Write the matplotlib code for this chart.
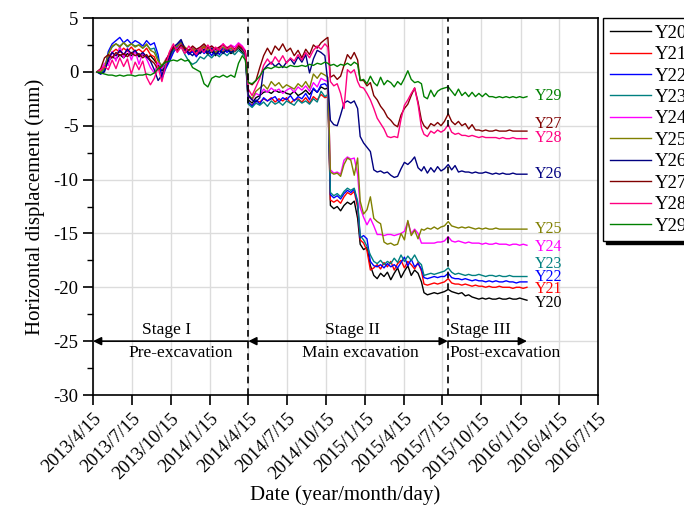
import numpy as np
import matplotlib
matplotlib.use("Agg")
import matplotlib.pyplot as plt
from matplotlib.ticker import MultipleLocator

plt.rcParams['font.family'] = ['Liberation Serif', 'DejaVu Serif']
plt.rcParams['axes.unicode_minus'] = False

# survey days counted from 2013/4/15
days = [9, 18, 27, 36, 45, 54, 63, 72, 81, 90, 99, 108, 117, 126, 135, 144, 153, 162, 171, 180,
        189, 198, 207, 216, 225, 234, 243, 252, 261, 270, 279, 288, 297, 306, 315, 324, 333, 342, 351, 358,
        365, 374, 383, 392, 401, 410, 419, 428, 437, 446, 455, 464, 473, 482, 491, 500, 509, 518, 527, 536, 545, 552,
        558, 566, 574, 582, 590, 598, 606, 614, 622, 628,
        636, 644, 652, 660, 668, 676, 684, 692, 700, 708, 716, 724, 732, 740, 748, 756, 764, 772, 778, 786, 794, 802, 810, 818, 826, 835,
        843, 851, 859, 867, 875, 883, 891, 899, 907, 915, 923, 931, 939, 947, 955, 963, 971, 979, 987, 995, 1003, 1011, 1020]

y20 = [0.0, 0.0, 0.2, 1.0, 1.4, 1.2, 1.6, 1.3, 1.7, 1.5, 1.9, 1.4, 1.6, 1.3, 1.5, 1.1, 0.6, 0.1, 0.5, 1.3,
       2.1, 2.4, 2.8, 2.0, 1.7, 1.9, 1.5, 1.8, 2.1, 1.6, 1.9, 1.5, 2.0, 1.8, 2.1, 1.7, 1.9, 2.2, 1.8, 1.5,
       -2.6, -2.9, -2.4, -2.2, -1.9, -1.8, -2.0, -1.7, -1.9, -1.8, -2.0, -2.1, -1.8, -2.2, -2.0, -1.7, -2.1, -1.6, -1.9, -1.4, -1.6, -1.5,
       -12.4, -12.7, -12.5, -12.9, -12.4, -12.1, -12.3, -12.0, -13.6, -16.0,
       -16.5, -16.3, -18.0, -18.9, -19.2, -18.7, -19.0, -18.6, -19.3, -18.7, -18.2, -19.1, -18.5, -18.0, -18.9, -18.4, -18.7, -19.5, -20.5, -20.7, -20.6, -20.5, -20.6, -20.5, -20.4, -20.2,
       -20.4, -20.5, -20.6, -20.5, -20.8, -20.7, -20.9, -21.0, -21.1, -21.0, -21.1, -21.0, -21.1, -21.1, -21.0, -21.1, -21.1, -21.0, -21.1, -21.1, -21.0, -21.1, -21.2]
y21 = [0.0, -0.1, 0.3, 1.4, 1.8, 2.1, 1.8, 2.2, 1.9, 2.3, 1.9, 2.1, 1.8, 2.2, 1.6, 1.4, 0.5, -0.2, 0.4, 1.1,
       1.9, 2.2, 2.5, 2.0, 1.7, 2.1, 1.7, 2.0, 2.3, 1.9, 2.1, 1.8, 2.2, 2.0, 2.3, 1.9, 2.1, 2.5, 2.2, 1.8,
       -2.9, -3.1, -2.7, -2.8, -2.5, -2.7, -2.4, -2.8, -2.5, -2.7, -2.4, -2.9, -2.6, -2.5, -2.8, -2.4, -2.9, -2.3, -2.6, -2.1, -2.4, -2.3,
       -11.9, -12.1, -11.9, -12.2, -11.6, -11.2, -11.4, -11.1, -12.6, -15.6,
       -15.9, -16.6, -18.4, -18.2, -17.9, -18.3, -17.7, -18.1, -17.6, -18.4, -17.8, -17.5, -18.2, -17.6, -17.9, -18.3, -17.7, -18.5, -19.7, -19.8, -19.7, -19.6, -19.7, -19.6, -19.5, -19.2,
       -19.6, -19.7, -19.7, -19.8, -19.7, -19.8, -19.9, -19.8, -19.9, -19.9, -20.0, -19.9, -20.0, -20.0, -19.9, -20.0, -20.0, -20.0, -20.1, -20.0, -20.0, -20.1, -20.0]
y22 = [0.0, -0.2, 0.1, 1.9, 2.6, 2.9, 3.2, 2.7, 3.0, 2.6, 2.9, 2.7, 2.4, 2.9, 2.5, 2.7, 1.6, -0.6, 0.3, 1.0,
       1.8, 2.4, 2.8, 2.2, 1.6, 1.9, 1.4, 2.2, 1.7, 2.0, 1.5, 2.1, 1.6, 2.3, 1.8, 2.2, 1.9, 2.3, 2.0, 1.8,
       -2.8, -3.2, -2.6, -3.0, -2.4, -2.7, -2.5, -2.3, -2.8, -2.4, -2.6, -2.2, -2.7, -2.3, -2.5, -2.0, -2.6, -1.5, -1.9, -1.2, -1.1, -1.4,
       -11.4, -11.7, -11.5, -11.8, -11.3, -11.0, -11.2, -10.9, -12.2, -15.4,
       -15.2, -15.5, -17.6, -18.0, -18.1, -17.9, -18.2, -17.8, -18.1, -17.9, -18.2, -17.7, -17.2, -18.0, -17.4, -18.1, -17.8, -18.3, -19.1, -19.2, -19.1, -19.0, -19.1, -19.0, -19.0, -18.7,
       -19.1, -19.2, -19.2, -19.3, -19.2, -19.3, -19.4, -19.3, -19.4, -19.4, -19.5, -19.4, -19.5, -19.4, -19.5, -19.5, -19.4, -19.5, -19.5, -19.6, -19.5, -19.5, -19.5]
y23 = [0.0, -0.1, 0.2, 1.7, 2.3, 2.6, 2.4, 2.7, 2.3, 2.6, 2.4, 2.5, 2.2, 2.5, 2.1, 2.2, 1.2, 0.3, 0.7, 1.4,
       2.0, 2.2, 2.4, 1.6, 1.0, 0.7, 0.9, 1.4, 1.2, 1.6, 1.3, 1.7, 1.4, 1.8, 1.5, 1.9, 1.6, 2.0, 1.7, 1.4,
       -3.0, -3.3, -2.9, -3.1, -2.8, -3.2, -2.7, -3.0, -2.8, -3.1, -2.7, -2.9, -3.1, -2.6, -2.9, -2.7, -3.0, -2.5, -2.8, -1.8, -2.3, -2.1,
       -11.2, -11.5, -11.3, -11.6, -11.1, -10.8, -11.0, -10.8, -12.0, -15.2,
       -15.6, -16.2, -17.0, -17.6, -17.8, -17.5, -17.9, -17.6, -17.8, -17.3, -17.7, -17.0, -17.6, -17.1, -17.5, -17.0, -17.6, -17.9, -18.9, -18.8, -18.7, -18.8, -18.7, -18.6, -18.5, -18.2,
       -18.6, -18.8, -18.7, -18.8, -18.9, -18.8, -18.9, -18.9, -18.8, -18.9, -19.0, -18.9, -18.9, -19.0, -18.9, -19.0, -19.0, -18.9, -19.0, -19.0, -19.0, -19.0, -19.0]
y24 = [0.0, 0.1, 0.8, 0.6, 1.9, 1.0, 2.4, 1.3, 2.2, 1.1, 2.0, 0.7, 1.8, 1.2, 0.4, -0.1, 0.9, 0.3, 1.2, 1.6,
       2.4, 2.1, 2.6, 2.2, 1.9, 2.3, 2.0, 2.2, 2.5, 2.1, 2.4, 2.0, 2.3, 2.6, 2.2, 2.5, 2.3, 2.7, 2.4, 2.0,
       -2.3, -2.6, -2.0, -2.2, -1.6, -1.9, -1.5, -1.8, -1.6, -2.0, -1.7, -1.5, -1.9, -1.4, -1.7, -1.3, -1.8, -1.0, -1.4, -0.6, -0.8, -0.9,
       -9.1, -9.4, -9.3, -9.5, -8.2, -7.9, -8.1, -8.0, -9.5, -12.6,
       -13.5, -14.2, -13.6, -14.3, -15.1, -15.1, -15.2, -15.1, -15.1, -15.2, -15.1, -15.0, -14.8, -13.9, -15.0, -14.6, -15.0, -15.9, -15.9, -15.9, -15.9, -15.9, -15.8, -15.8, -15.7, -15.3,
       -15.7, -15.8, -15.7, -15.8, -15.9, -15.8, -15.9, -15.9, -15.9, -16.0, -15.9, -16.0, -16.0, -15.9, -16.0, -16.0, -16.0, -16.1, -16.0, -16.0, -16.1, -16.0, -16.1]
y25 = [0.0, 0.0, 0.4, 1.6, 2.4, 2.6, 2.3, 2.7, 2.4, 2.6, 2.3, 2.5, 2.2, 2.6, 2.0, 1.8, 1.0, 0.6, 1.1, 1.6,
       2.2, 2.4, 2.7, 2.3, 2.0, 2.2, 1.9, 2.1, 2.4, 2.0, 2.2, 1.8, 2.1, 2.3, 2.0, 2.2, 1.9, 2.3, 2.0, 1.6,
       -2.1, -2.5, -1.8, -1.5, -1.2, -1.6, -0.9, -1.3, -1.0, -1.5, -1.2, -1.4, -1.6, -1.1, -1.4, -0.9, -1.5, -0.2, -0.6, -0.1, -0.3, -0.5,
       -9.3, -9.5, -9.4, -9.7, -8.6, -8.0, -8.2, -9.6, -8.0, -12.0,
       -13.2, -12.8, -11.6, -13.6, -13.9, -14.1, -15.8, -16.0, -15.9, -16.1, -16.0, -15.0, -15.6, -13.8, -15.2, -14.7, -15.5, -14.6, -14.7, -14.5, -14.6, -14.4, -14.6, -14.4, -14.3, -13.9,
       -14.3, -14.4, -14.5, -14.4, -14.5, -14.4, -14.5, -14.6, -14.5, -14.6, -14.5, -14.6, -14.6, -14.5, -14.6, -14.6, -14.6, -14.6, -14.6, -14.6, -14.6, -14.6, -14.6]
y26 = [0.0, -0.2, 0.0, 1.2, 1.8, 1.5, 2.0, 1.6, 2.1, 1.7, 2.0, 1.5, 1.8, 1.4, 1.0, 0.2, -0.8, -0.3, 0.6, 1.4,
       2.3, 2.6, 3.0, 2.1, 1.8, 1.5, 2.0, 1.7, 2.1, 1.8, 2.2, 1.6, 2.0, 1.7, 2.1, 1.8, 2.0, 2.4, 2.1, 1.7,
       -2.2, -2.6, -2.8, -2.4, 0.2, 0.6, 0.9, 0.5, 0.8, 0.4, 0.9, 1.2, 0.7, 1.4, 0.9, 1.6, -0.1, 1.2, 2.0, 1.8, 1.5, -1.0,
       -4.5, -4.9, -5.0, -4.0, -2.9, -2.7, -2.9, -2.7, -3.4, -6.0,
       -6.6, -7.0, -7.4, -9.1, -9.3, -9.2, -9.4, -9.3, -9.6, -9.8, -9.7, -9.0, -8.4, -8.6, -8.3, -7.9, -8.9, -9.2, -8.8, -9.4, -8.9, -9.3, -8.8, -9.2, -9.0, -8.6,
       -9.1, -8.7, -9.3, -9.2, -9.3, -9.3, -9.4, -9.3, -9.4, -9.4, -9.3, -9.4, -9.5, -9.4, -9.5, -9.4, -9.5, -9.5, -9.4, -9.5, -9.5, -9.5, -9.5]
y27 = [0.0, 0.3, 1.3, 1.6, 1.3, 1.8, 1.5, 1.7, 1.4, 1.8, 1.5, 1.7, 1.3, 1.6, 1.1, 0.8, 0.2, 0.5, 1.0, 1.8,
       2.3, 2.0, 2.5, 2.2, 2.0, 2.4, 2.1, 2.3, 2.6, 2.2, 2.4, 2.1, 2.3, 2.5, 2.2, 2.4, 2.1, 2.4, 2.2, 1.9,
       -1.0, -1.2, -0.8, 0.4, 1.5, 2.2, 1.6, 2.4, 2.0, 2.6, 1.9, 2.2, 1.5, 2.0, 1.3, 2.1, 1.6, 2.5, 2.2, 2.7, 3.0, 3.2,
       -0.5, -0.3, -0.7, -0.4, 0.6, 1.6, 1.2, 1.8, 1.1, -0.8,
       -0.8, -1.3, -1.0, -2.2, -2.6, -3.2, -3.6, -4.2, -4.5, -4.9, -5.1, -4.0, -3.4, -3.0, -2.2, -1.5, -2.8, -4.5, -5.0, -5.3, -4.8, -5.0, -4.7, -5.0, -4.6, -3.9,
       -4.6, -4.9, -4.6, -5.0, -4.8, -5.3, -4.9, -5.4, -5.4, -5.5, -5.4, -5.5, -5.5, -5.4, -5.5, -5.5, -5.5, -5.4, -5.5, -5.5, -5.5, -5.5, -5.5]
y28 = [0.0, 0.2, 0.5, 0.2, 1.1, 0.3, 1.3, 0.5, 1.2, -0.2, 0.9, 0.2, 1.0, -0.5, -1.2, -0.6, 0.4, -0.9, 0.6, 1.9,
       2.6, 1.8, 2.3, 1.7, 2.4, 2.0, 1.6, 2.2, 1.8, 2.5, 1.9, 2.3, 2.0, 2.6, 2.1, 2.4, 2.0, 2.6, 2.3, 1.8,
       -1.6, -2.2, -1.4, -0.6, 0.6, 1.2, 0.7, 1.4, 0.9, 1.5, 0.8, 1.3, 1.0, 1.6, 1.1, 1.8, 1.3, 2.0, 2.4, 2.1, 2.6, 2.3,
       -0.9, -1.3, -1.1, -2.0, -3.4, 0.2, -0.1, 0.2, -0.9, -1.4,
       -1.5, -2.0, -2.6, -3.4, -4.3, -4.8, -5.3, -6.0, -6.1, -6.0, -6.1, -4.4, -3.1, -2.6, -2.0, -1.5, -3.0, -5.2, -5.8, -6.0, -5.5, -5.7, -5.4, -5.6, -5.4, -4.9,
       -5.6, -5.8, -5.7, -5.9, -5.9, -6.0, -5.9, -6.0, -6.1, -6.0, -6.1, -6.1, -6.1, -6.1, -6.2, -6.1, -6.2, -6.2, -6.1, -6.2, -6.2, -6.2, -6.2]
y29 = [0.0, -0.1, -0.2, -0.3, -0.3, -0.4, -0.3, -0.4, -0.3, -0.3, -0.4, -0.3, -0.3, -0.2, -0.3, -0.1, 0.3, 0.6, 0.9, 1.0,
       1.1, 1.0, 1.2, 1.0, 1.1, 0.4, 0.2, 0.0, -1.1, -1.4, -0.6, -0.4, -0.5, -0.3, -0.5, -0.3, -0.5, 0.8, 1.5, 1.1,
       -1.0, -1.1, -0.8, -0.4, 0.2, 0.4, 0.3, 0.5, 0.4, 0.5, 0.4, 0.6, 0.5, 0.5, 0.6, 0.5, 0.7, 0.6, 0.8, 0.7, 0.9, 0.8,
       0.6, 0.7, 0.5, 0.7, 0.6, 0.8, 0.6, 0.9, 0.7, -0.8,
       -0.7, -1.1, -0.4, -1.0, -1.3, -0.5, -1.2, -0.8, -1.0, -1.4, -0.9, -1.2, -0.6, 0.1, -0.7, -1.0, -0.9, -1.1, -2.3, -2.5, -1.7, -2.3, -1.8, -1.6, -1.5, -1.4,
       -1.8, -2.2, -1.6, -2.2, -1.9, -2.3, -1.9, -2.3, -2.0, -2.3, -2.0, -2.3, -2.3, -2.4, -2.3, -2.4, -2.3, -2.4, -2.3, -2.4, -2.3, -2.4, -2.3]

names = ['Y20', 'Y21', 'Y22', 'Y23', 'Y24', 'Y25', 'Y26', 'Y27', 'Y28', 'Y29']
series = [y20, y21, y22, y23, y24, y25, y26, y27, y28, y29]
colors = ['#000000', '#ff0000', '#0000ff', '#008080', '#ff00ff',
          '#808000', '#000080', '#800000', '#ff0080', '#008000']
# vertical position of the name written after each curve
tag_y = [-21.5, -20.2, -19.0, -17.8, -16.3, -14.6, -9.5, -4.8, -6.1, -2.2]

tick_dates = ['2013-04-15', '2013-07-15', '2013-10-15', '2014-01-15', '2014-04-15', '2014-07-15',
              '2014-10-15', '2015-01-15', '2015-04-15', '2015-07-15', '2015-10-15', '2016-01-15',
              '2016-04-15', '2016-07-15']
tick_labels = ['2013/4/15', '2013/7/15', '2013/10/15', '2014/1/15', '2014/4/15', '2014/7/15',
               '2014/10/15', '2015/1/15', '2015/4/15', '2015/7/15', '2015/10/15', '2016/1/15',
               '2016/4/15', '2016/7/15']

start = np.datetime64('2013-04-15')
dates = start + np.array(days).astype('timedelta64[D]')

fig = plt.figure(figsize=(6.84, 5.08), dpi=100)
ax = fig.add_axes([93 / 684, 1 - 395 / 508, 505 / 684, 377 / 508])

lines = []
for i, (name, s, c) in enumerate(zip(names, series, colors)):
    ln, = ax.plot(dates, s, color=c, lw=1.0, label=name)
    lines.append(ln)
    ax.annotate(name, xy=(dates[-1], tag_y[i]), xytext=(6, 0), textcoords='offset points',
                va='center', ha='left', color=c, fontsize=11.5, annotation_clip=False)

# stage boundaries
b1 = np.datetime64('2014-04-15')
b2 = np.datetime64('2015-07-28')
b3 = np.datetime64('2016-01-30')
for b in (b1, b2):
    ax.axvline(b, color='black', lw=1.2, ls=(0, (4, 3)), zorder=3)

arrow_kw = dict(color='black', lw=1.2, shrinkA=0, shrinkB=0, mutation_scale=12)
ax.annotate('', xy=(start, -25), xytext=(b1, -25), arrowprops=dict(arrowstyle='-|>', **arrow_kw))
ax.annotate('', xy=(b1, -25), xytext=(b2, -25), arrowprops=dict(arrowstyle='<|-|>', **arrow_kw))
ax.annotate('', xy=(b3, -25), xytext=(b2, -25), arrowprops=dict(arrowstyle='-|>', **arrow_kw))

ax.text(np.datetime64('2013-10-04'), -24.0, 'Stage I', ha='center', va='center', fontsize=12.5)
ax.text(np.datetime64('2013-11-08'), -26.1, 'Pre-excavation', ha='center', va='center', fontsize=12.5)
ax.text(np.datetime64('2014-12-15'), -24.0, 'Stage II', ha='center', va='center', fontsize=12.5)
ax.text(np.datetime64('2015-01-03'), -26.1, 'Main excavation', ha='center', va='center', fontsize=12.5)
ax.text(np.datetime64('2015-08-02'), -24.0, 'Stage III', ha='left', va='center', fontsize=12.5)
ax.text(np.datetime64('2015-08-02'), -26.1, 'Post-excavation', ha='left', va='center', fontsize=12.5)

ax.set_xlim(np.datetime64('2013-04-15'), np.datetime64('2016-07-15'))
ax.set_ylim(-30, 5)
ax.set_xticks([np.datetime64(d) for d in tick_dates])
ax.set_xticklabels(tick_labels, rotation=45, ha='right', rotation_mode='anchor')
ax.yaxis.set_major_locator(MultipleLocator(5))
ax.yaxis.set_minor_locator(MultipleLocator(2.5))
ax.tick_params(axis='both', which='major', direction='out', length=7, width=1.2, labelsize=13.5)
ax.tick_params(axis='x', which='major', pad=4)
ax.tick_params(axis='y', which='minor', direction='out', length=4, width=1.0)
ax.grid(True, which='major', color='#dcdcdc', lw=1.0)
ax.set_axisbelow(True)
for sp in ax.spines.values():
    sp.set_linewidth(1.2)

ax.set_xlabel('Date (year/month/day)', fontsize=15, labelpad=2)
ax.set_ylabel('Horizontal displacement (mm)', fontsize=15, labelpad=6)

fig.legend(lines, names, loc='upper left', bbox_to_anchor=(603 / 684, 1 - 18 / 508),
           bbox_transform=fig.transFigure, borderaxespad=0, fontsize=13.5, frameon=True,
           fancybox=False, edgecolor='black', framealpha=1, shadow={'color': 'black', 'alpha': 1},
           handlelength=2.2, handletextpad=0.2, labelspacing=0.23, borderpad=0.35)

fig.savefig('out.png', dpi=100)
